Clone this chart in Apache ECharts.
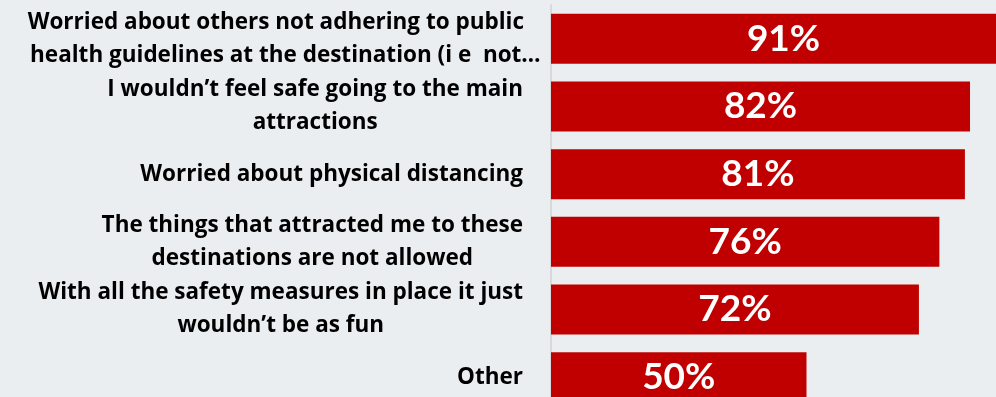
<!DOCTYPE html>
<html>
<head>
<meta charset="utf-8">
<script src="https://cdn.jsdelivr.net/npm/echarts@6/dist/echarts.min.js"></script>
<style>
  html, body { margin: 0; padding: 0; background: #ebeef0; }
  #chart { width: 996px; height: 397px; }
</style>
</head>
<body>
<div id="chart"></div>
<script>
const categories = [
  "Worried about others not adhering to public\nhealth guidelines at the destination (i e  not\u2026",
  "I wouldn\u2019t feel safe going to the main\nattractions",
  "Worried about physical distancing",
  "The things that attracted me to these\ndestinations are not allowed",
  "With all the safety measures in place it just\nwouldn\u2019t be as fun",
  "Other"
];
const values = [91, 82, 81, 76, 72, 50];

const labelFont = {
  align: 'center',
  fontFamily: 'Open Sans',
  fontWeight: 'bold',
  fontSize: 22.5,
  lineHeight: 33,
  color: '#000'
};

const chart = echarts.init(document.getElementById('chart'), null, { renderer: 'canvas' });
chart.setOption({
  backgroundColor: '#ebeef0',
  animation: false,
  grid: { left: 551, top: 5, width: 511, height: 406, containLabel: false, outerBoundsMode: 'none' },
  xAxis: {
    type: 'value', min: 0, max: 100, show: false
  },
  yAxis: {
    type: 'category',
    data: categories,
    inverse: true,
    offset: 1,
    axisLine: { show: true, lineStyle: { color: '#d9d9d9', width: 2 } },
    axisTick: { show: false },
    splitLine: { show: false },
    axisLabel: {
      margin: 7,
      formatter: function (v, idx) {
        const lines = v.split('\n');
        return lines.map(function (s, i) {
          let key = 'p';
          if (idx === 0) key = (i === 0) ? 'q' : 'a';
          return '{' + key + '|' + s + '}';
        }).join('\n');
      },
      rich: {
        a: Object.assign({}, labelFont),
        p: Object.assign({ padding: [0, 20, 0, 0] }, labelFont),
        q: Object.assign({ padding: [0, 19, 0, 0] }, labelFont)
      }
    }
  },
  series: [{
    type: 'bar',
    data: values,
    barWidth: 50,
    itemStyle: { color: '#c00000' },
    label: {
      show: true,
      position: 'inside',
      formatter: function (p) { return p.value + '%'; },
      color: '#fff',
      fontFamily: 'Lato',
      fontWeight: 'bold',
      fontSize: 37
    }
  }]
});
</script>
</body>
</html>
